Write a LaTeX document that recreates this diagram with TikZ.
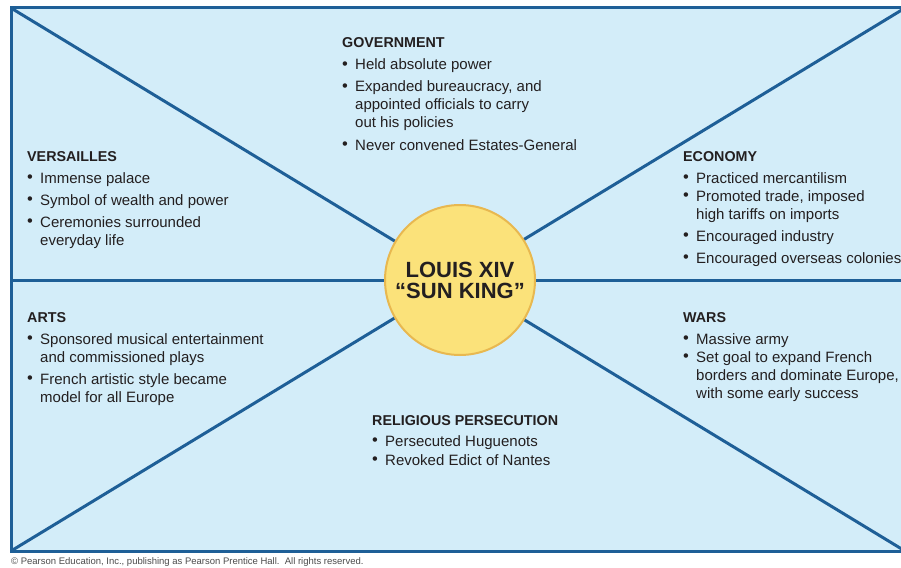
\documentclass[tikz,border=0pt]{standalone}
\usepackage{fontspec}
\setmainfont{Liberation Sans}
\definecolor{panel}{HTML}{D3EDF9}
\definecolor{rule}{HTML}{1E5F97}
\definecolor{sun}{HTML}{FBE27A}
\definecolor{sunedge}{HTML}{E8B850}
\definecolor{ink}{HTML}{231F20}
\newcommand{\bul}{\makebox[13pt][l]{\fontsize{16.5}{18}\selectfont\raisebox{0.3pt}{•}}}
\begin{document}
\begin{tikzpicture}[x=1pt,y=-1pt,
  hd/.style={anchor=base west,inner sep=0pt,text=ink,font=\bfseries\fontsize{14.3}{18}\selectfont},
  tx/.style={anchor=base west,inner sep=0pt,text=ink,font=\fontsize{15}{18}\selectfont},
  rl/.style={draw=rule,line width=3pt}]
\clip (0,0) rectangle (901,567);
\fill[white] (0,0) rectangle (901,567);
\coordinate (tl) at (11,8);
\coordinate (tr) at (905,8);
\coordinate (bl) at (11,551);
\coordinate (br) at (905,551);
\coordinate (ml) at (11,280);
\coordinate (mr) at (905,280);
\fill[panel] (tl) rectangle (br);
\draw[rl] (tl) -- (br);
\draw[rl] (bl) -- (tr);
\draw[rl] (ml) -- (mr);
\draw[rl,line join=miter] (tl) rectangle (br);
\node[circle,fill=sun,draw=sunedge,line width=2pt,minimum size=150pt,inner sep=0pt,
  align=center,text=ink,font=\bfseries\fontsize{22}{21}\selectfont] (sun) at (460,280)
  {LOUIS XIV\\“SUN KING”};
% Government
\node[hd] (gov) at (342,48) {GOVERNMENT};
\node[tx] (gov1) at (342,70) {\bul Held absolute power};
\node[tx] (gov2) at (342,92) {\bul Expanded bureaucracy, and};
\node[tx] (gov3) at (355,110) {appointed officials to carry};
\node[tx] (gov4) at (355,128) {out his policies};
\node[tx] (gov5) at (342,150) {\bul Never convened Estates-General};
% Versailles
\node[hd] (ver) at (27,161) {VERSAILLES};
\node[tx] (ver1) at (27,183) {\bul Immense palace};
\node[tx] (ver2) at (27,205) {\bul Symbol of wealth and power};
\node[tx] (ver3) at (27,227) {\bul Ceremonies surrounded};
\node[tx] (ver4) at (40,245) {everyday life};
% Economy
\node[hd] (eco) at (683,161) {ECONOMY};
\node[tx] (eco1) at (683,183) {\bul Practiced mercantilism};
\node[tx] (eco2) at (683,201) {\bul Promoted trade, imposed};
\node[tx] (eco3) at (696,219) {high tariffs on imports};
\node[tx] (eco4) at (683,241) {\bul Encouraged industry};
\node[tx] (eco5) at (683,263) {\bul Encouraged overseas colonies};
% Arts
\node[hd] (art) at (27,322) {ARTS};
\node[tx] (art1) at (27,344) {\bul Sponsored musical entertainment};
\node[tx] (art2) at (40,362) {and commissioned plays};
\node[tx] (art3) at (27,384) {\bul French artistic style became};
\node[tx] (art4) at (40,402) {model for all Europe};
% Wars
\node[hd] (war) at (683,322) {WARS};
\node[tx] (war1) at (683,344) {\bul Massive army};
\node[tx] (war2) at (683,362) {\bul Set goal to expand French};
\node[tx] (war3) at (696,380) {borders and dominate Europe,};
\node[tx] (war4) at (696,398) {with some early success};
% Religious persecution
\node[hd] (rel) at (372,425) {RELIGIOUS PERSECUTION};
\node[tx] (rel1) at (372,446) {\bul Persecuted Huguenots};
\node[tx] (rel2) at (372,465) {\bul Revoked Edict of Nantes};
% Copyright
\node[anchor=base west,inner sep=0pt,text=black!70,font=\fontsize{9.5}{10}\selectfont] (copy) at (11,564.5)
  {© Pearson Education, Inc., publishing as Pearson Prentice Hall.\ \ All rights reserved.};
\end{tikzpicture}
\end{document}
